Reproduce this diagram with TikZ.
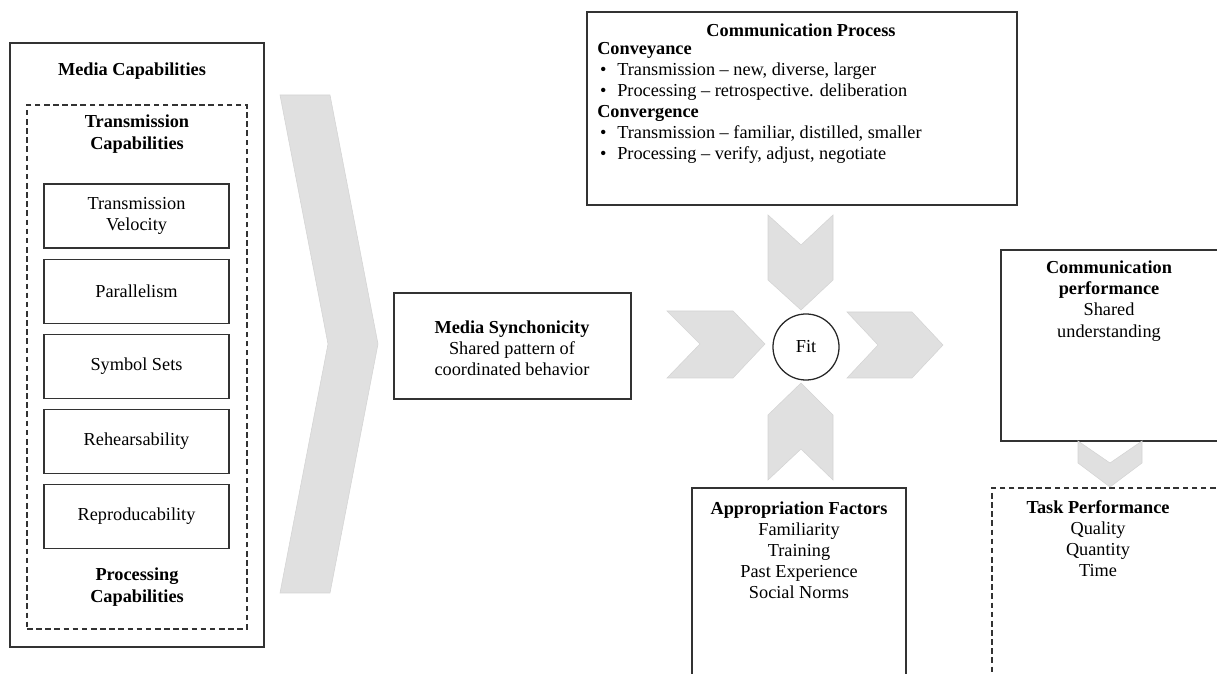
\documentclass[tikz,border=0pt]{standalone}
\usepackage{fontspec}
\setmainfont{Liberation Serif}
\usetikzlibrary{positioning,fit}

\tikzset{
  boxframe/.style={draw=black!80, line width=0.8pt, inner sep=0pt},
  dashframe/.style={boxframe, dash pattern=on 4pt off 2.5pt},
  capbox/.style={draw=black!80, line width=0.8pt, minimum width=4.625cm, minimum height=1.6cm, align=center},
  arrowfill/.style={fill=black!12, draw=black!17, line width=0.4pt},
  head/.style={font=\fontsize{13}{16}\selectfont\bfseries, align=center},
}

\begin{document}
\begin{tikzpicture}[x=0.025cm, y=-0.025cm, font=\fontsize{13}{15}\selectfont]
            \useasboundingbox (0,0) rectangle (1217,674);
            \clip (0,0) rectangle (1217,674);
            % media capabilities
            \node[boxframe, fit={(10,43) (264,647)}] (mediacap) {};
            \node[dashframe, fit={(27,105) (247,629)}] (procap) {};
            \node[head] (mediatitle) at (132,71) {Media Capabilities};
            \node[head] (transtitle) at (137,134) {Transmission\\Capabilities};
            \node[capbox] (velocity) at (136.5,216) {Transmission\\Velocity};
            \node[capbox, below=0.25cm of velocity] (parallel) {Parallelism};
            \node[capbox, below=0.25cm of parallel] (symbols) {Symbol Sets};
            \node[capbox, below=0.25cm of symbols] (rehearse) {Rehearsability};
            \node[capbox, below=0.25cm of rehearse] (reproduce) {Reproducability};
            \node[head] (proctitle) at (137,587) {Processing\\Capabilities};
            % big arrow
            \filldraw[arrowfill] (280,95) -- (330,95) -- (378,344) -- (330,593) -- (280,593) -- (328,344) -- cycle;
            % synchronicity
            \node[boxframe, fit={(394,293) (631,399)}] (synch) {};
            \node[align=center] (synchtext) at (512,348) {\textbf{Media Synchonicity}\\Shared pattern of\\coordinated behavior};
            % communication process
            \node[boxframe, fit={(587,12) (1017,205)}] (process) {};
            \node[head] (processtitle) at (801,30) {Communication Process};
            \node[anchor=west, align=left, inner sep=0pt] (processlist) at (597,103) {%
              \textbf{Conveyance}\\
              \hspace*{0.07cm}\makebox[0.43cm][l]{\textbullet}Transmission -- new, diverse, larger\\
              \hspace*{0.07cm}\makebox[0.43cm][l]{\textbullet}Processing -- retrospective. deliberation\\
              \textbf{Convergence}\\
              \hspace*{0.07cm}\makebox[0.43cm][l]{\textbullet}Transmission -- familiar, distilled, smaller\\
              \hspace*{0.07cm}\makebox[0.43cm][l]{\textbullet}Processing -- verify, adjust, negotiate};
            % fit
            \node[circle, draw=black!85, line width=0.9pt, minimum size=1.65cm, inner sep=0pt] (fitcircle) at (806,347) {Fit};
            \filldraw[arrowfill] (667,311) -- (733,311) -- (765,344) -- (733,378) -- (667,378) -- (700,344) -- cycle;
            \filldraw[arrowfill] (847,312) -- (912,312) -- (943,345) -- (912,378) -- (847,378) -- (878,345) -- cycle;
            \filldraw[arrowfill] (768,215) -- (801,245) -- (833,215) -- (833,280) -- (801,310) -- (768,280) -- cycle;
            \filldraw[arrowfill] (801,383) -- (833,415) -- (833,480) -- (801,449) -- (768,480) -- (768,415) -- cycle;
            % appropriation
            \node[boxframe, fit={(692,488) (906,700)}] (approp) {};
            \node[align=center] (approptext) at (799,550) {\textbf{Appropriation Factors}\\Familiarity\\Training\\Past Experience\\Social Norms};
            % performance
            \node[boxframe, fit={(1001,250) (1240,441)}] (commperf) {};
            \node[align=center] (commperftext) at (1109,301) {\textbf{Communication}\\\textbf{performance}\\Shared\\understanding};
            \node[dashframe, fit={(992,488) (1240,700)}] (taskperf) {};
            \node[align=center] (taskperftext) at (1098,539) {\textbf{Task Performance}\\Quality\\Quantity\\Time};
            \filldraw[arrowfill] (1078,441) -- (1110,463) -- (1142,441) -- (1142,463) -- (1110,487) -- (1078,463) -- cycle;
        \end{tikzpicture}
\end{document}
